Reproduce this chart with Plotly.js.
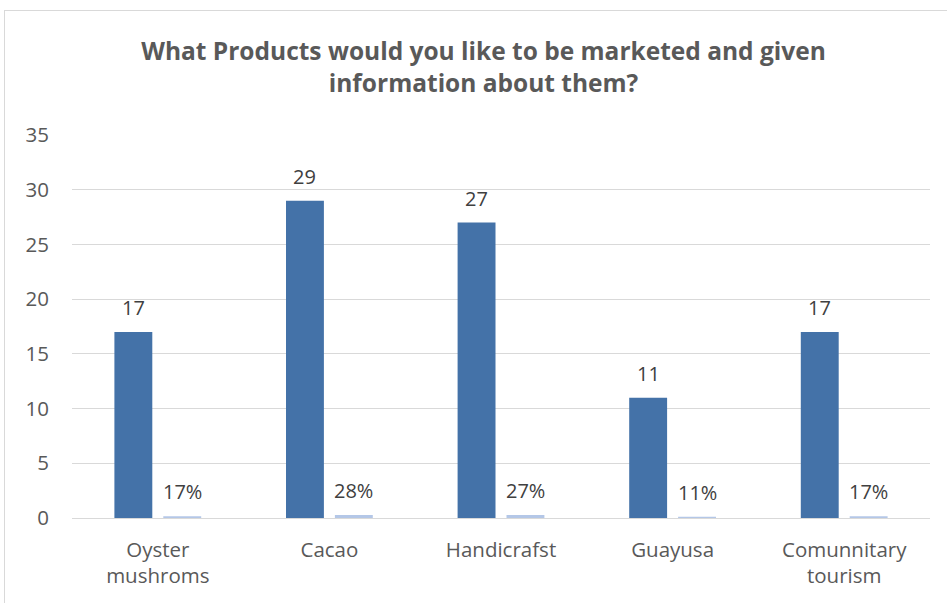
<!DOCTYPE html>
<html>
<head>
<meta charset="utf-8">
<script src="https://cdn.plot.ly/plotly-3.0.1.min.js"></script>
<style>
html,body{margin:0;padding:0;background:#fff;}
#wrap{position:relative;width:947px;height:603px;overflow:hidden;}
#frame{position:absolute;left:4px;top:10px;width:960px;height:620px;border:1px solid #d9d9d9;box-sizing:border-box;pointer-events:none;z-index:5;}
#chart{position:absolute;left:0;top:0;width:947px;height:603px;}
</style>
</head>
<body>
<div id="wrap"><div id="chart"></div><div id="frame"></div></div>
<script>
const categories = ["Oyster<br>mushroms", "Cacao", "Handicrafst", "Guayusa", "Comunnitary<br>tourism"];
const counts = [17, 29, 27, 11, 17];
const shares = [0.17, 0.28, 0.27, 0.11, 0.17];
const countLabels = ["17", "29", "27", "11", "17"];
const shareLabels = ["17%", "28%", "27%", "11%", "17%"];
const yTicks = [0, 5, 10, 15, 20, 25, 30, 35];

const textColor = "#404040";
const font = "'Open Sans', sans-serif";

const traces = [
  {type: "bar", x: categories, y: counts, name: "Count",
   marker: {color: "#4472a8"}, hoverinfo: "none"},
  {type: "bar", x: categories, y: shares, name: "Percent",
   marker: {color: "#b4c7e7"}, hoverinfo: "none"}
];

const annotations = [];
categories.forEach((c, i) => {
  annotations.push({x: c, y: counts[i], xref: "x", yref: "y", text: countLabels[i],
    showarrow: false, yanchor: "bottom", yshift: 9, xshift: -24.5,
    font: {family: font, size: 20, color: textColor}});
  annotations.push({x: c, y: shares[i], xref: "x", yref: "y", text: shareLabels[i],
    showarrow: false, yanchor: "bottom", yshift: 9, xshift: 24.5,
    font: {family: font, size: 20, color: textColor}});
});

const layout = {
  width: 947, height: 603,
  margin: {l: 72, r: 17, t: 135, b: 85},
  paper_bgcolor: "#ffffff", plot_bgcolor: "#ffffff",
  showlegend: false,
  barmode: "group", bargap: 0.43, bargroupgap: 0.225,
  title: {text: "<b>What Products would you like to be marketed and given<br>information about them?</b>",
    x: 0.5106, xanchor: "center", y: 0.9005, yanchor: "middle",
    font: {family: font, size: 24.5, color: "#595959"}},
  xaxis: {type: "category", showgrid: false, showline: true, linecolor: "#d9d9d9", linewidth: 1,
    ticks: "", ticklabelstandoff: 13,
    tickfont: {family: font, size: 20.5, color: "#595959"}},
  yaxis: {range: [0, 35], tickvals: yTicks, showgrid: true, gridcolor: "#d9d9d9", gridwidth: 1,
    zeroline: false, showline: false, ticks: "", ticklabelstandoff: 22,
    tickfont: {family: font, size: 20.5, color: "#595959"}},
  annotations: annotations
};

Plotly.newPlot("chart", traces, layout, {displayModeBar: false, staticPlot: true});
</script>
</body>
</html>
